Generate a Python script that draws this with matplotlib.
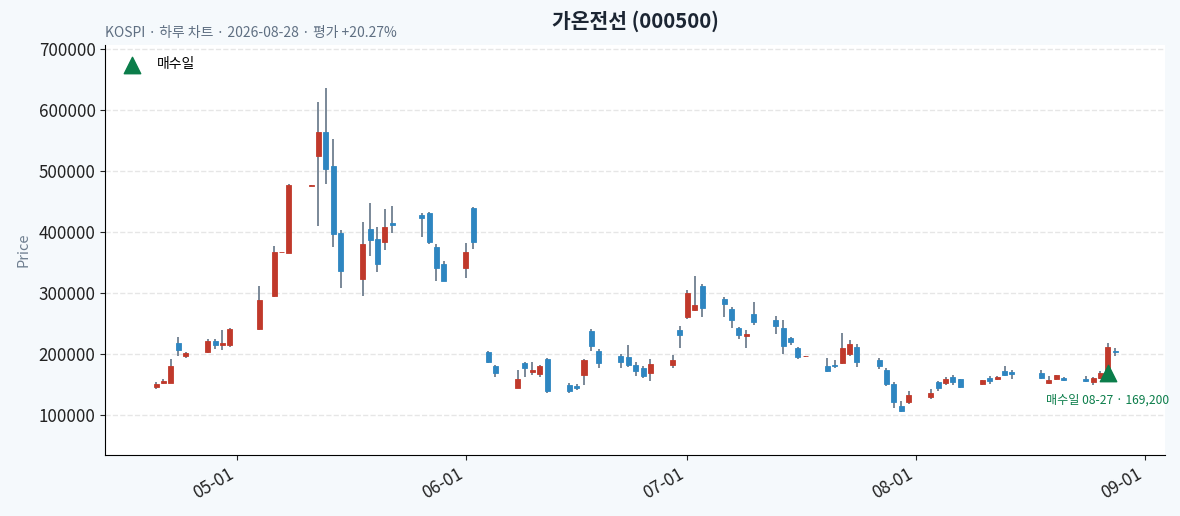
import matplotlib
matplotlib.use("Agg")
import matplotlib.pyplot as plt
import matplotlib.dates as mdates
import numpy as np
import pandas as pd
from matplotlib.ticker import FuncFormatter, MultipleLocator

plt.rcParams['font.family'] = ['Noto Sans CJK KR', 'DejaVu Sans']

dates = [
    "2026-04-20", "2026-04-21", "2026-04-22", "2026-04-23", "2026-04-24",
    "2026-04-27", "2026-04-28", "2026-04-29", "2026-04-30",
    "2026-05-04", "2026-05-06", "2026-05-07", "2026-05-08",
    "2026-05-11", "2026-05-12", "2026-05-13", "2026-05-14", "2026-05-15",
    "2026-05-18", "2026-05-19", "2026-05-20", "2026-05-21", "2026-05-22",
    "2026-05-26", "2026-05-27", "2026-05-28", "2026-05-29",
    "2026-06-01", "2026-06-02", "2026-06-04", "2026-06-05",
    "2026-06-08", "2026-06-09", "2026-06-10", "2026-06-11", "2026-06-12",
    "2026-06-15", "2026-06-16", "2026-06-17", "2026-06-18", "2026-06-19",
    "2026-06-22", "2026-06-23", "2026-06-24", "2026-06-25", "2026-06-26",
    "2026-06-29", "2026-06-30", "2026-07-01", "2026-07-02", "2026-07-03",
    "2026-07-06", "2026-07-07", "2026-07-08", "2026-07-09", "2026-07-10",
    "2026-07-13", "2026-07-14", "2026-07-15", "2026-07-16", "2026-07-17",
    "2026-07-20", "2026-07-21", "2026-07-22", "2026-07-23", "2026-07-24",
    "2026-07-27", "2026-07-28", "2026-07-29", "2026-07-30", "2026-07-31",
    "2026-08-03", "2026-08-04", "2026-08-05", "2026-08-06", "2026-08-07",
    "2026-08-10", "2026-08-11", "2026-08-12", "2026-08-13", "2026-08-14",
    "2026-08-18", "2026-08-19", "2026-08-20", "2026-08-21",
    "2026-08-24", "2026-08-25", "2026-08-26", "2026-08-27", "2026-08-28",
]

opens = [
    145900, 153600, 153600, 218600, 197800, 203300, 221900, 215300, 215800,
    241000, 296200, 367400, 366700, 476600, 525700, 563900, 508200, 398900,
    324000, 404900, 388500, 384700, 414800, 428400, 431100, 375400, 347500,
    342100, 439300, 203600, 180600, 145100, 185500, 171300, 168000, 193200,
    149500, 147800, 166400, 238000, 205200, 197000, 195400, 182200, 177300,
    169700, 183000, 239900, 261700, 273200, 312000, 290700, 274300, 243200,
    230600, 265600, 256300, 243200, 226800, 209800, 196600, 180900, 183100,
    186300, 201100, 211300, 190400, 174000, 151100, 115000, 122100, 129800,
    154900, 152700, 162600, 159300, 151600, 161500, 159800, 172500, 171200,
    169400, 153000, 160100, 160700, 159000, 154600, 161200, 169200, 205500,
]
highs = [
    154100, 159000, 191800, 227900, 204400, 224600, 225100, 239900, 243200,
    312000, 377600, 368000, 478700, 477400, 613100, 636100, 552500, 403300,
    416400, 447500, 408200, 437700, 443700, 431100, 432800, 380300, 353600,
    382000, 441500, 205200, 182200, 174000, 188300, 188300, 182200, 194800,
    152700, 151100, 192100, 241300, 208500, 201400, 215000, 187200, 180600,
    193200, 198500, 246400, 305500, 327900, 315300, 294000, 277600, 244800,
    239300, 285200, 262300, 255700, 228400, 212000, 197500, 193400, 190200,
    234400, 223000, 216200, 193700, 177300, 154400, 124300, 139600, 144000,
    156600, 163700, 165800, 160400, 158800, 164800, 165300, 180600, 174000,
    174900, 163900, 166700, 163400, 163900, 162800, 172700, 218000, 209800,
]
lows = [
    143700, 150800, 152500, 196700, 193400, 202700, 208700, 207100, 212600,
    240500, 293400, 367400, 366200, 476400, 410400, 478700, 375400, 308200,
    295100, 361200, 334400, 370500, 398400, 391800, 380300, 319700, 319700,
    324600, 372100, 186100, 163100, 144600, 163100, 166900, 163100, 137400,
    136900, 142300, 150500, 205700, 178400, 178400, 179500, 164800, 161500,
    157100, 178300, 209800, 257400, 271000, 261700, 261700, 242600, 224600,
    209800, 248600, 232800, 200000, 214800, 192900, 196400, 170500, 177000,
    183600, 196700, 179600, 175700, 148400, 112800, 105700, 119400, 127000,
    140700, 150000, 150500, 145100, 150000, 152200, 158800, 164200, 158900,
    159600, 150800, 157400, 155700, 154600, 149200, 159600, 166500, 197300,
]
closes = [
    151400, 156300, 180900, 207700, 201600, 221300, 215800, 218000, 241500,
    289100, 367800, 368000, 477000, 477200, 563900, 504400, 397800, 337200,
    380900, 388000, 348600, 408700, 412600, 423000, 384700, 341000, 320800,
    367200, 384700, 187700, 169700, 159300, 177900, 174000, 180600, 140200,
    139600, 145100, 190400, 213900, 186100, 187700, 182800, 172900, 164200,
    183900, 190500, 232200, 300500, 280900, 276500, 283100, 256800, 232200,
    233300, 253600, 247000, 214200, 220800, 196200, 197300, 173200, 181400,
    209800, 216400, 187800, 181100, 151100, 122100, 107400, 134200, 136300,
    145100, 159300, 154400, 146700, 157700, 156600, 162600, 166500, 167300,
    161200, 157900, 165600, 157900, 156800, 161700, 169400, 212000, 203500,
]

buy_date = "2026-08-27"
buy_price = 169200
title = "가온전선 (000500)"
subtitle = "KOSPI · 하루 차트 · 2026-08-28 · 평가 +20.27%"
buy_label = "매수일"
annot_text = "매수일 08-27 · 169,200"

UP = "#c0392b"
DOWN = "#2e86c1"
WICK = "#6f7f90"
GREEN = "#0b7d4a"

df = pd.DataFrame({"date": pd.to_datetime(dates), "open": opens, "high": highs,
                   "low": lows, "close": closes})
x = mdates.date2num(df["date"])

fig = plt.figure(figsize=(11.8, 5.16), dpi=100, facecolor="#f5f9fc")
ax = fig.add_axes([0.0892, 0.118, 0.8981, 0.795])
ax.set_facecolor("white")

up = df["close"].values >= df["open"].values
colors = np.where(up, UP, DOWN)
ax.vlines(x, df["low"], df["high"], color=WICK, linewidth=1.3, zorder=2)
bottom = np.minimum(df["open"], df["close"])
height = np.maximum(np.abs(df["close"] - df["open"]), 600)
ax.bar(x, height, bottom=bottom, width=0.68, color=colors, edgecolor=colors,
       linewidth=0.6, zorder=3)

bx = mdates.date2num(pd.Timestamp(buy_date))
ax.scatter([bx], [buy_price], marker="^", s=140, color=GREEN, zorder=5,
           label=buy_label)
ax.annotate(annot_text, (bx, buy_price), xytext=(0, -19.5),
            textcoords="offset points", ha="center", va="center",
            fontsize=8.7, color=GREEN, zorder=6)

ax.set_xlim(mdates.date2num(pd.Timestamp("2026-04-13 02:40")),
            mdates.date2num(pd.Timestamp("2026-09-03 18:00")))
ax.set_ylim(35000, 707000)
ax.yaxis.set_major_locator(MultipleLocator(100000))
ax.yaxis.set_major_formatter(FuncFormatter(lambda v, p: f"{int(v)}"))
ax.xaxis.set_major_locator(mdates.MonthLocator())
ax.xaxis.set_major_formatter(mdates.DateFormatter("%m-%d"))
for lab in ax.get_xticklabels():
    lab.set_rotation(30)
    lab.set_ha("right")
ax.tick_params(axis="both", labelsize=12.2, colors="#222222")

ax.grid(axis="y", linestyle="--", color="#e6e6e6", linewidth=1)
ax.set_axisbelow(True)
for s in ["top", "right"]:
    ax.spines[s].set_visible(False)
ax.set_ylabel("Price", color="#6f7f90", fontsize=10.5, labelpad=6)

ax.legend(loc="upper left", frameon=False, fontsize=10)
fig.text(0.5385, 0.958, title, ha="center", va="center", fontsize=14.7,
         fontweight="bold", color="#1c2633")
ax.text(0.0, 1.013, subtitle, transform=ax.transAxes, ha="left", va="bottom",
        fontsize=10, color="#5f6f82")

fig.savefig("out.png", dpi=100, facecolor=fig.get_facecolor())
